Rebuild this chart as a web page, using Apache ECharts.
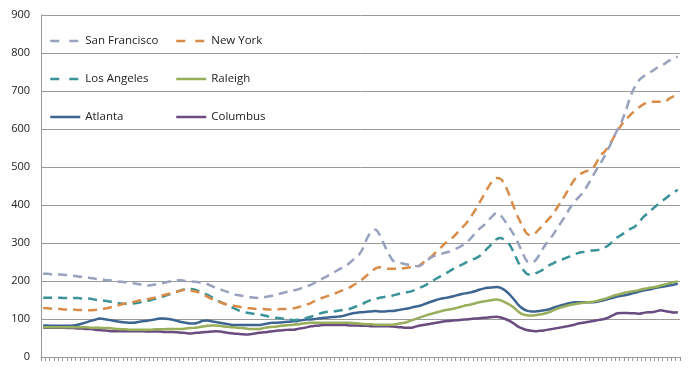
<!DOCTYPE html>
<html>
<head>
<meta charset="utf-8">
<script src="https://cdn.jsdelivr.net/npm/echarts@6/dist/echarts.min.js"></script>
<style>html,body{margin:0;padding:0;background:#fff}#chart{width:700px;height:374px}</style>
</head>
<body>
<div id="chart"></div>
<script>
// 148 periods (quarterly), unlabeled on the chart
const categories = [];
for (let y = 1975; y <= 2011; y++) { for (let q = 1; q <= 4; q++) categories.push(y + ' Q' + q); }

const yTicks = [0, 100, 200, 300, 400, 500, 600, 700, 800, 900];

const sanFrancisco = [219,219,218,218,217,216,215,214,212,211,209,208,206,205,203,202,201,199,198,197,196,194,192,190,188,189,191,192,195,198,200,202,202,200,199,198,197,195,192,187,182,178,174,170,166,163,161,159,157,156,155,157,159,161,164,167,170,173,175,178,182,186,190,196,202,208,214,220,227,233,238,248,258,267,285,312,330,335,320,295,272,254,250,247,244,242,240,239,245,255,263,268,271,274,277,282,287,293,300,312,325,337,346,358,370,379,372,357,340,322,300,275,253,248,254,270,290,305,320,338,355,372,392,408,420,433,450,470,490,508,528,550,575,598,620,650,685,710,728,738,745,752,760,766,772,780,786,790];

const newYork = [129,128,127,126,126,125,125,125,124,124,123,123,124,125,127,129,132,135,138,141,143,145,148,150,152,154,157,160,163,166,169,172,175,177,175,173,170,165,159,153,148,144,140,137,135,133,131,129,128,127,126,126,125,125,125,126,126,127,128,131,134,138,142,148,153,157,161,165,169,174,178,183,190,197,205,215,225,233,236,234,232,232,232,233,234,236,238,240,248,257,265,276,287,298,307,316,328,340,352,368,385,405,425,445,462,471,468,452,425,395,368,345,325,320,326,338,350,362,375,392,410,428,448,466,478,485,490,495,508,530,540,555,575,595,612,625,637,648,657,665,670,672,672,672,672,680,686,690];

const losAngeles = [156,156,156,156,156,155,155,155,155,154,154,153,151,149,148,147,145,143,141,140,140,141,143,145,147,150,153,157,160,164,168,172,176,178,179,178,173,168,164,158,151,145,140,135,129,124,120,117,115,113,112,110,107,105,103,102,100,99,97,98,100,103,106,110,114,117,119,120,121,123,125,127,131,135,140,146,150,153,156,158,160,162,165,168,170,172,176,181,186,192,199,206,212,218,225,232,238,243,249,255,259,265,275,287,298,310,313,306,296,275,250,232,219,216,220,225,232,240,246,252,256,260,265,270,274,276,278,280,281,283,288,295,305,315,322,330,337,343,355,368,378,388,398,408,416,425,433,440];

const raleigh = [78,78,78,78,78,78,78,78,78,78,78,77,77,77,76,76,75,74,73,73,72,72,72,72,72,72,73,73,73,74,74,74,74,75,76,77,78,80,82,83,83,82,80,79,78,77,76,75,74,74,74,76,78,79,80,82,83,84,85,86,88,89,90,90,90,90,90,90,90,90,90,90,89,88,87,86,86,85,85,85,85,85,87,89,91,95,99,103,107,111,114,117,120,123,125,127,130,133,136,138,141,144,146,148,150,151,149,144,138,130,120,113,110,109,110,112,114,117,122,127,131,134,137,139,141,143,144,145,147,150,153,157,161,164,167,170,172,174,176,179,181,183,185,188,191,194,197,199];

const atlanta = [83,83,82,82,82,82,82,83,85,88,91,95,98,101,100,98,96,94,92,91,90,90,92,94,95,97,99,101,101,100,98,95,92,90,88,88,91,95,96,94,92,90,88,86,84,84,84,84,84,84,84,86,88,90,90,91,92,93,94,95,97,99,99,100,102,103,104,105,106,107,110,113,116,117,118,119,120,121,120,120,121,121,123,125,127,129,132,134,138,142,146,150,153,155,157,160,163,166,168,170,173,177,180,182,183,184,182,175,165,152,138,128,122,120,120,121,123,125,129,133,136,139,142,144,144,144,144,144,145,147,150,153,156,159,161,163,166,169,172,175,177,179,182,184,186,188,190,193];

const columbus = [77,77,77,77,77,77,76,76,75,75,74,74,72,71,70,69,68,68,68,68,68,68,68,68,67,67,67,67,66,66,66,65,64,63,62,63,64,65,66,67,68,67,65,63,62,61,60,59,60,62,64,65,66,68,69,70,71,72,72,74,76,78,81,82,83,84,84,84,84,84,84,83,83,83,82,82,81,81,81,81,81,80,79,78,77,77,79,82,84,86,88,90,92,94,95,96,97,98,99,100,101,102,103,104,105,106,104,100,95,88,80,75,71,69,68,69,70,72,74,76,78,80,82,85,88,90,92,94,96,98,100,104,110,115,116,116,115,115,114,116,118,118,120,123,121,119,117,118];

const names = ['San Francisco', 'New York', 'Los Angeles', 'Raleigh', 'Atlanta', 'Columbus'];
const dataSets = [sanFrancisco, newYork, losAngeles, raleigh, atlanta, columbus];
const colors = ['#98A1BE', '#D98C48', '#3A9399', '#98AE5A', '#3D6592', '#6A4C80'];
const dashed = [true, true, true, false, false, false];

const legendPos = [[44, 30], [170, 30], [44, 68], [170, 68], [44, 106], [170, 106]];

const chart = echarts.init(document.getElementById('chart'), null, { renderer: 'canvas' });
chart.setOption({
  animation: false,
  backgroundColor: '#fff',
  textStyle: { fontFamily: 'Open Sans' },
  grid: { left: 41, right: 20, top: 15, bottom: 17, containLabel: false },
  legend: names.map((n, i) => ({
    show: true,
    data: [n],
    left: legendPos[i][0],
    top: legendPos[i][1],
    orient: 'horizontal',
    itemWidth: 30,
    itemHeight: 12,
    itemGap: 4,
    itemStyle: { color: 'rgba(0,0,0,0)', borderWidth: 0, borderColor: 'rgba(0,0,0,0)' },
    lineStyle: { width: 2.5, type: dashed[i] ? [9, 10] : 'solid' },
    textStyle: { fontFamily: 'Open Sans', fontSize: 11.5, color: '#222' }
  })),
  xAxis: {
    type: 'category',
    data: categories,
    boundaryGap: true,
    axisLine: { show: true, lineStyle: { color: '#9a9a9a', width: 1 } },
    axisTick: { show: true, interval: 0, length: 4, lineStyle: { color: '#9a9a9a' } },
    axisLabel: { show: false },
    splitLine: { show: false }
  },
  yAxis: {
    type: 'value',
    min: yTicks[0],
    max: yTicks[yTicks.length - 1],
    interval: 100,
    axisLine: { show: true, lineStyle: { color: '#9a9a9a' } },
    axisTick: { show: false },
    axisLabel: { fontFamily: 'Open Sans', fontSize: 11, color: '#222', margin: 11 },
    splitLine: { show: true, lineStyle: { color: '#9a9a9a', width: 1 } }
  },
  series: names.map((n, i) => ({
    name: n,
    type: 'line',
    data: dataSets[i],
    smooth: 0.3,
    symbol: 'none',
    z: 10 - i,
    lineStyle: { color: colors[i], width: 2.5, type: dashed[i] ? [9, 6] : 'solid' },
    itemStyle: { color: colors[i] }
  }))
});
</script>
</body>
</html>
